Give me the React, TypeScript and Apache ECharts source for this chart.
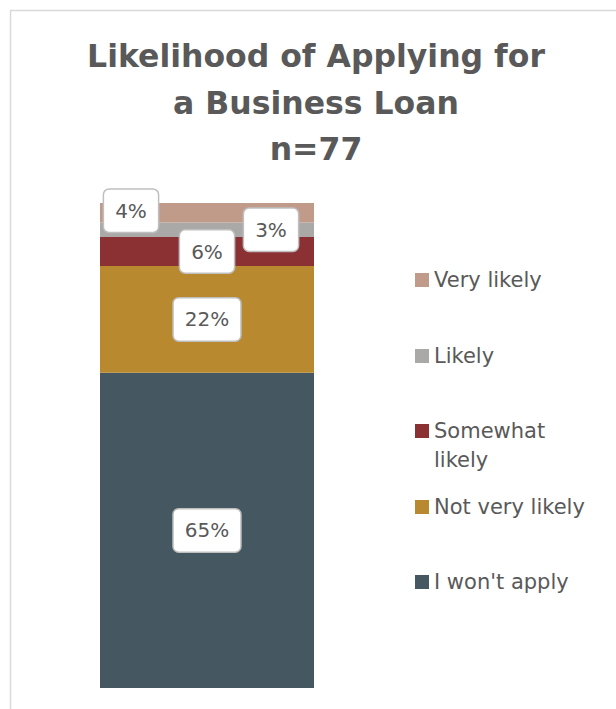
import React, { useEffect, useRef } from "react";
import * as echarts from "echarts";

const categories = ["All respondents"];
const seriesNames = ["I won't apply", "Not very likely", "Somewhat likely", "Likely", "Very likely"];
const seriesValues = [65, 22, 6, 3, 4];
const seriesColors = ["#455861", "#B8892F", "#8B3033", "#ABA8A8", "#C09B8A"];
const labelOffsets: [number, number][] = [[0, 0], [0, 0], [0, 0], [64, 0], [-76, -2]];
const legendCenters = [582, 507, 431, 356, 280];
const titleText = "Likelihood of Applying for\na Business Loan\nn=77";

const FONT = "DejaVu Sans";
const TEXT = "#595959";

export default function App() {
  const ref = useRef<HTMLDivElement>(null);
  useEffect(() => {
    if (!ref.current) return;
    const chart = echarts.init(ref.current, undefined, { renderer: "svg" });
    const series = seriesNames.map((name, i) => ({
      name,
      type: "bar",
      stack: "total",
      barWidth: "100%",
      data: [seriesValues[i]],
      itemStyle: { color: seriesColors[i] },
      label: {
        show: true,
        position: "inside",
        offset: labelOffsets[i],
        formatter: "{c}%",
        color: TEXT,
        fontFamily: FONT,
        fontSize: 20,
        lineHeight: 24,
        backgroundColor: "#ffffff",
        borderColor: "#bfbfbf",
        borderWidth: 1.5,
        borderRadius: 5,
        padding: [9, 11],
      },
    }));
    const legends = seriesNames.map((name, i) => {
      const multi = name === "Somewhat likely";
      return {
        orient: "vertical",
        left: 415,
        top: multi ? legendCenters[i] - 43.5 : legendCenters[i] - 14.5,
        padding: 0,
        itemWidth: 14,
        itemHeight: 14,
        icon: "rect",
        selectedMode: false,
        data: [name],
        formatter: (n: string) => (n === "Somewhat likely" ? "\nSomewhat\nlikely" : n),
        textStyle: {
          color: TEXT,
          fontFamily: FONT,
          fontSize: 21,
          lineHeight: 29,
        },
      };
    });
    chart.setOption({
      animation: false,
      backgroundColor: "#ffffff",
      title: {
        text: titleText,
        left: 316,
        top: 33,
        padding: 0,
        textAlign: "center",
        textStyle: {
          color: TEXT,
          fontFamily: FONT,
          fontWeight: "bold",
          fontSize: 31.5,
          lineHeight: 46.5,
        },
      },
      legend: legends,
      grid: { left: 100, top: 203, width: 214, height: 485, containLabel: false },
      xAxis: { type: "category", data: categories, show: false },
      yAxis: { type: "value", min: 0, max: 100, show: false },
      graphic: [
        {
          type: "rect",
          shape: { x: 10.5, y: 10.5, width: 700, height: 800 },
          style: { fill: "none", stroke: "#d9d9d9", lineWidth: 1.5 },
          silent: true,
        },
      ],
      series,
    });
    return () => chart.dispose();
  }, []);
  return (
    <div style={{ position: "fixed", left: 0, top: 0, width: 616, height: 709 }}>
      <div ref={ref} style={{ width: 616, height: 709 }} />
    </div>
  );
}
